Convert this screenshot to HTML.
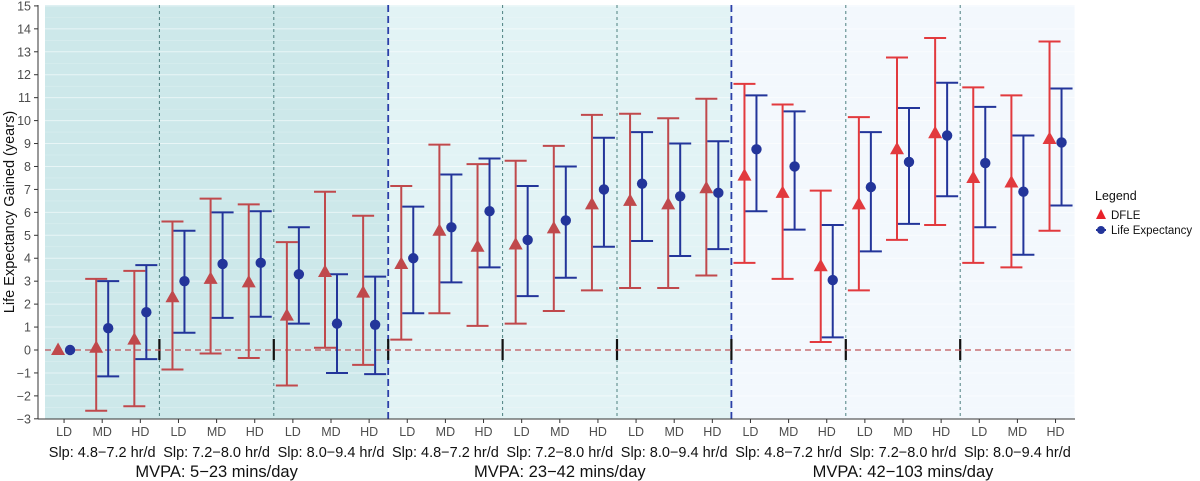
<!DOCTYPE html>
<html><head><meta charset="utf-8"><style>
html,body{margin:0;padding:0;background:#fff;}
svg{display:block;font-family:"Liberation Sans",sans-serif;}
</style></head><body>
<svg id="s" width="1200" height="481" xmlns="http://www.w3.org/2000/svg"></svg>
<script>
const s=document.getElementById('s');
let h='';
const Y=v=>350-v*22.94;
const X0=45,W=114.4;
h+=`<rect x="38" y="5" width="1037" height="414" fill="#fff"/>`;
const bg=['#cde8ea','#e2f3f5','#f3f8fd'];
for(let p=0;p<3;p++)h+=`<rect x="${X0+p*3*W}" y="5" width="${3*W}" height="414" fill="${bg[p]}"/>`;
for(let v=-3;v<=15;v+=0.5){h+=`<line x1="45" x2="1075" y1="${Y(v)}" y2="${Y(v)}" stroke="#fff" stroke-opacity="${v%1==0?0.55:0.3}" stroke-width="${v%1==0?1:0.6}"/>`;
 if(v%1==0){h+=`<line x1="34" x2="38" y1="${Y(v)}" y2="${Y(v)}" stroke="#333"/><text x="31" y="${Y(v)+4.5}" font-size="12.5" text-anchor="end" fill="#4d4d4d">${v<0?'−'+(-v):v}</text>`;}}
for(let i=1;i<9;i++){const x=X0+i*W;if(i%3==0)h+=`<line x1="${x}" x2="${x}" y1="5" y2="419" stroke="#2b3fa8" stroke-width="1.8" stroke-dasharray="7,4"/>`;
 else h+=`<line x1="${x}" x2="${x}" y1="5" y2="419" stroke="#4e8080" stroke-width="1" stroke-dasharray="3,3"/>`;
 h+=`<line x1="${x}" x2="${x}" y1="339" y2="360" stroke="#111" stroke-width="2.2"/>`;}
h+=`<line x1="45" x2="1075" y1="${Y(0)}" y2="${Y(0)}" stroke="#c0555a" stroke-width="1.2" stroke-dasharray="6,4"/>`;
const d=[
[[0,0,0,0,0,0],[0.1,-2.65,3.1,0.95,-1.15,3.0],[0.45,-2.45,3.45,1.65,-0.4,3.7]],
[[2.3,-0.85,5.6,3.0,0.75,5.2],[3.1,-0.15,6.6,3.75,1.4,6.0],[2.95,-0.35,6.35,3.8,1.45,6.05]],
[[1.5,-1.55,4.7,3.3,1.15,5.35],[3.4,0.1,6.9,1.15,-1.0,3.3],[2.5,-0.65,5.85,1.1,-1.05,3.2]],
[[3.75,0.45,7.15,4.0,1.6,6.25],[5.2,1.6,8.95,5.35,2.95,7.65],[4.5,1.05,8.1,6.05,3.6,8.35]],
[[4.6,1.15,8.25,4.8,2.35,7.15],[5.3,1.7,8.9,5.65,3.15,8.0],[6.35,2.6,10.25,7.0,4.5,9.25]],
[[6.5,2.7,10.3,7.25,4.75,9.5],[6.35,2.7,10.1,6.7,4.1,9.0],[7.05,3.25,10.95,6.85,4.4,9.1]],
[[7.6,3.8,11.6,8.75,6.05,11.1],[6.85,3.1,10.7,8.0,5.25,10.4],[3.65,0.35,6.95,3.05,0.55,5.45]],
[[6.35,2.6,10.15,7.1,4.3,9.5],[8.75,4.8,12.75,8.2,5.5,10.55],[9.45,5.45,13.6,9.35,6.7,11.65]],
[[7.5,3.8,11.45,8.15,5.35,10.6],[7.3,3.6,11.1,6.9,4.15,9.35],[9.2,5.2,13.45,9.05,6.3,11.4]]];
const lab=['LD','MD','HD'],slp=['Slp: 4.8−7.2 hr/d','Slp: 7.2−8.0 hr/d','Slp: 8.0−9.4 hr/d'];
const blue='#23359a';
for(let i=0;i<9;i++){const red=i<6?'#c0494c':'#e23a3e';
 for(let j=0;j<3;j++){const c=X0+i*W+W*(2*j+1)/6;const r=d[i][j];
  const xd=c-6,xl=c+6;
  if(i>0||j>0){
  h+=`<g stroke="${red}" stroke-width="2"><line x1="${xd}" x2="${xd}" y1="${Y(r[1])}" y2="${Y(r[2])}"/><line x1="${xd-11}" x2="${xd+11}" y1="${Y(r[1])}" y2="${Y(r[1])}"/><line x1="${xd-11}" x2="${xd+11}" y1="${Y(r[2])}" y2="${Y(r[2])}"/></g>`;
  h+=`<g stroke="${blue}" stroke-width="2"><line x1="${xl}" x2="${xl}" y1="${Y(r[4])}" y2="${Y(r[5])}"/><line x1="${xl-11}" x2="${xl+11}" y1="${Y(r[4])}" y2="${Y(r[4])}"/><line x1="${xl-11}" x2="${xl+11}" y1="${Y(r[5])}" y2="${Y(r[5])}"/></g>`;}
  const yd=Y(r[0]);h+=`<polygon points="${xd},${yd-7.5} ${xd-7},${yd+5} ${xd+7},${yd+5}" fill="${red}"/>`;
  h+=`<circle cx="${xl}" cy="${Y(r[3])}" r="5.2" fill="${blue}"/>`;
  h+=`<line x1="${c}" x2="${c}" y1="419" y2="423" stroke="#333"/><text x="${c}" y="436" font-size="12.5" text-anchor="middle" fill="#4d4d4d">${lab[j]}</text>`;}
 h+=`<text x="${X0+i*W+W/2}" y="457" font-size="14.5" text-anchor="middle" fill="#111">${slp[i%3]}</text>`;}
const mv=['MVPA: 5−23 mins/day','MVPA: 23−42 mins/day','MVPA: 42−103 mins/day'];
for(let p=0;p<3;p++)h+=`<text x="${X0+p*3*W+1.5*W}" y="477" font-size="16.5" text-anchor="middle" fill="#111">${mv[p]}</text>`;
h+=`<line x1="38" x2="38" y1="5" y2="419" stroke="#333"/><line x1="38" x2="1075" y1="419" y2="419" stroke="#333"/>`;
h+=`<text transform="translate(14,212) rotate(-90)" font-size="14.5" text-anchor="middle" fill="#111">Life Expectancy Gained (years)</text>`;
h+=`<text x="1095" y="200" font-size="12.5" fill="#111">Legend</text>`;
h+=`<polygon points="1101,209 1096,219 1106,219" fill="#e8222a"/><text x="1111" y="219" font-size="11.5" fill="#111">DFLE</text>`;
h+=`<circle cx="1101" cy="230" r="4" fill="${blue}"/><line x1="1096" x2="1106" y1="230" y2="230" stroke="${blue}" stroke-width="2"/><text x="1111" y="234" font-size="11.5" fill="#111">Life Expectancy</text>`;
s.innerHTML=h;
</script>
</body></html>
